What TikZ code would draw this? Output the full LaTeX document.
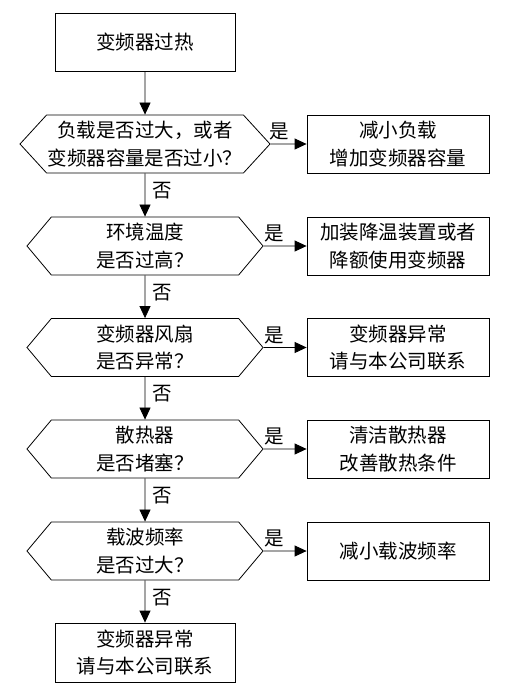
\documentclass[tikz,border=0pt]{standalone}
\usepackage{fontspec}
\usepackage{tikz}
\usetikzlibrary{arrows.meta,shapes.symbols}
\newfontfamily\cjk{Noto Sans CJK SC}

\begin{document}
\begin{tikzpicture}[x=1pt,y=-1pt,
        font=\cjk\fontsize{19.5}{27.5}\selectfont,
        box/.style={shape=rectangle,draw=black,line width=0.8pt,align=center,minimum width=180pt,minimum height=58pt,inner sep=0pt},
        hex/.style={shape=signal,signal to=west and east,signal pointer angle=100,draw=black,line width=0.8pt,align=center,minimum width=236pt,minimum height=58pt,inner sep=0pt},
        flow/.style={draw=black,line width=0.8pt,-{Triangle[length=12pt,width=11pt]}}]
        \useasboundingbox (0,0) rectangle (519,691);

        \node[box] (S) at (145,42.5) {变频器过热};
        \node[hex,minimum width=250pt,signal pointer angle=95] (Q1) at (145,144) {负载是否过大，或者\\变频器容量是否过小？};
        \node[hex] (Q2) at (145,246) {环境温度\\是否过高？};
        \node[hex] (Q3) at (145,347.5) {变频器风扇\\是否异常？};
        \node[hex] (Q4) at (145,449) {散热器\\是否堵塞？};
        \node[hex] (Q5) at (145,551) {载波频率\\是否过大？};
        \node[box,minimum height=59pt] (E) at (145,652.5) {变频器异常\\请与本公司联系};

        \node[box,minimum width=182pt] (R1) at (398,144) {减小负载\\增加变频器容量};
        \node[box,minimum width=182pt] (R2) at (398,246) {加装降温装置或者\\降额使用变频器};
        \node[box,minimum width=182pt] (R3) at (398,347.5) {变频器异常\\请与本公司联系};
        \node[box,minimum width=182pt] (R4) at (398,449) {清洁散热器\\改善散热条件};
        \node[box,minimum width=182pt] (R5) at (398,551) {减小载波频率};

        \path [flow](S) edge (Q1);
        \path [flow](Q1) edge node[right=4pt,pos=0.4] {否} (Q2);
        \path [flow](Q2) edge node[right=4pt,pos=0.4] {否} (Q3);
        \path [flow](Q3) edge node[right=4pt,pos=0.4] {否} (Q4);
        \path [flow](Q4) edge node[right=4pt,pos=0.4] {否} (Q5);
        \path [flow](Q5) edge node[right=4pt,pos=0.4] {否} (E);
        \path [flow](Q1) edge node[above,pos=0.25] {是} (R1);
        \path [flow](Q2) edge node[above,pos=0.25] {是} (R2);
        \path [flow](Q3) edge node[above,pos=0.25] {是} (R3);
        \path [flow](Q4) edge node[above,pos=0.25] {是} (R4);
        \path [flow](Q5) edge node[above,pos=0.25] {是} (R5);
    \end{tikzpicture}
\end{document}
